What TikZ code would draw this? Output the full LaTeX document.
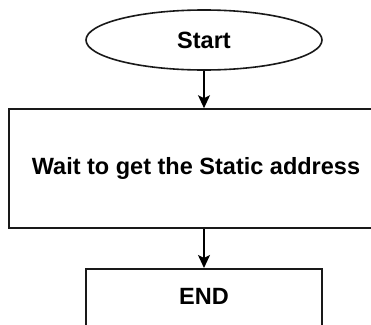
\documentclass[tikz,border=0pt]{standalone}
\usepackage{fontspec}
\setmainfont{Liberation Sans}
\usetikzlibrary{shapes.geometric,arrows.meta}
\begin{document}
\begin{tikzpicture}[x=1pt,y=-1pt,
  every node/.style={font=\fontsize{23.5}{28}\selectfont\bfseries, inner sep=0pt},
  shapeline/.style={draw=black!90, line width=1.6pt, fill=white},
  arr/.style={draw=black, line width=1.6pt, -{Stealth[length=13pt,width=12pt,inset=3pt]}}]
\useasboundingbox (0,0) rectangle (371,324);
\clip (0,0) rectangle (371,324);
\node[shapeline, ellipse, minimum width=236pt, minimum height=60pt] (start) at (204,40) {Start};
\node[shapeline, rectangle, minimum width=374pt, minimum height=119pt] (wait) at (196,168.5) {Wait to get the Static address};
\node[shapeline, rectangle, minimum width=236pt, minimum height=58pt, anchor=north] (endbox) at (204,268) {};
\node (endtext) at (204,296) {END};
\draw[arr] (start.south) -- (start.south |- wait.north);
\draw[arr] (wait.south -| endbox.north) -- (endbox.north);
\end{tikzpicture}
\end{document}
